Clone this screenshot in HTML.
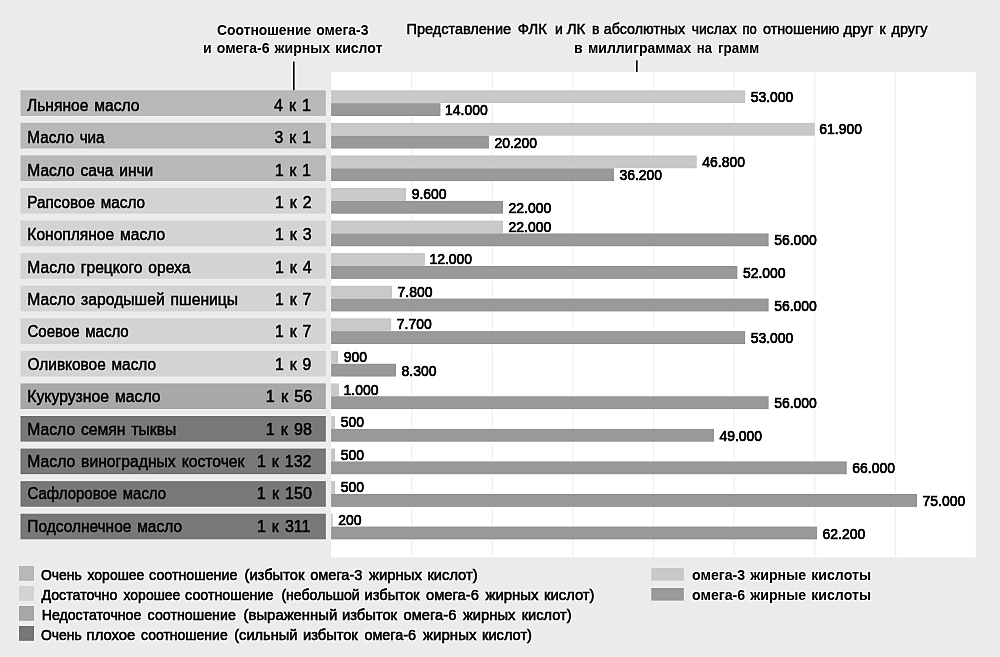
<!DOCTYPE html>
<html lang="ru"><head><meta charset="utf-8"><title>Соотношение омега-3 и омега-6 жирных кислот</title>
<style>
*{margin:0;padding:0}
html,body{width:1000px;height:657px;overflow:hidden;background:#ebebeb}
svg{display:block;position:absolute;left:0;top:0}
text{font-family:"Liberation Sans",sans-serif;fill:#0a0a0a;white-space:pre}
</style></head>
<body>
<svg width="1000" height="657" viewBox="0 0 1000 657">
<defs><filter id="usm" x="0" y="0" width="1000" height="657" filterUnits="userSpaceOnUse" color-interpolation-filters="sRGB"><feGaussianBlur in="SourceGraphic" stdDeviation="0.9" result="b"/><feComposite in="SourceGraphic" in2="b" operator="arithmetic" k1="0" k2="1.45" k3="-0.45" k4="0"/></filter></defs>
<g filter="url(#usm)">
<rect x="-20" y="-20" width="1040" height="697" fill="#ebebeb"/>
<rect x="331.1" y="72.0" width="644.70" height="485.40" fill="#ffffff"/>
<rect x="411.15" y="72.0" width="1.1" height="485.40" fill="#f0f0f0"/>
<rect x="491.75" y="72.0" width="1.1" height="485.40" fill="#f0f0f0"/>
<rect x="572.35" y="72.0" width="1.1" height="485.40" fill="#f0f0f0"/>
<rect x="652.95" y="72.0" width="1.1" height="485.40" fill="#f0f0f0"/>
<rect x="733.55" y="72.0" width="1.1" height="485.40" fill="#f0f0f0"/>
<rect x="814.15" y="72.0" width="1.1" height="485.40" fill="#f0f0f0"/>
<rect x="894.75" y="72.0" width="1.1" height="485.40" fill="#f0f0f0"/>
<rect x="293.0" y="61.6" width="1.6" height="29" fill="#1a1a1a"/>
<rect x="636.0" y="60.4" width="1.6" height="11.6" fill="#1a1a1a"/>
<rect x="20.5" y="90.30" width="305.30" height="25.6" fill="#b8b8b8"/>
<rect x="331.1" y="90.30" width="414.09" height="12.85" fill="#c9c9c9"/>
<rect x="331.1" y="103.15" width="109.38" height="12.85" fill="#9a9a9a"/>
<rect x="20.5" y="122.87" width="305.30" height="25.6" fill="#b8b8b8"/>
<rect x="331.1" y="122.87" width="483.62" height="12.85" fill="#c9c9c9"/>
<rect x="331.1" y="135.72" width="157.82" height="12.85" fill="#9a9a9a"/>
<rect x="20.5" y="155.44" width="305.30" height="25.6" fill="#b8b8b8"/>
<rect x="331.1" y="155.44" width="365.65" height="12.85" fill="#c9c9c9"/>
<rect x="331.1" y="168.29" width="282.83" height="12.85" fill="#9a9a9a"/>
<rect x="20.5" y="188.01" width="305.30" height="25.6" fill="#d3d3d3"/>
<rect x="331.1" y="188.01" width="75.00" height="12.85" fill="#c9c9c9"/>
<rect x="331.1" y="200.86" width="171.89" height="12.85" fill="#9a9a9a"/>
<rect x="20.5" y="220.58" width="305.30" height="25.6" fill="#d3d3d3"/>
<rect x="331.1" y="220.58" width="171.89" height="12.85" fill="#c9c9c9"/>
<rect x="331.1" y="233.43" width="437.53" height="12.85" fill="#9a9a9a"/>
<rect x="20.5" y="253.15" width="305.30" height="25.6" fill="#d3d3d3"/>
<rect x="331.1" y="253.15" width="93.76" height="12.85" fill="#c9c9c9"/>
<rect x="331.1" y="266.00" width="406.28" height="12.85" fill="#9a9a9a"/>
<rect x="20.5" y="285.72" width="305.30" height="25.6" fill="#d3d3d3"/>
<rect x="331.1" y="285.72" width="60.94" height="12.85" fill="#c9c9c9"/>
<rect x="331.1" y="298.57" width="437.53" height="12.85" fill="#9a9a9a"/>
<rect x="20.5" y="318.29" width="305.30" height="25.6" fill="#d3d3d3"/>
<rect x="331.1" y="318.29" width="60.16" height="12.85" fill="#c9c9c9"/>
<rect x="331.1" y="331.14" width="414.09" height="12.85" fill="#9a9a9a"/>
<rect x="20.5" y="350.86" width="305.30" height="25.6" fill="#d3d3d3"/>
<rect x="331.1" y="350.86" width="7.03" height="12.85" fill="#c9c9c9"/>
<rect x="331.1" y="363.71" width="64.85" height="12.85" fill="#9a9a9a"/>
<rect x="20.5" y="383.43" width="305.30" height="25.6" fill="#a8a8a8"/>
<rect x="331.1" y="383.43" width="7.81" height="12.85" fill="#c9c9c9"/>
<rect x="331.1" y="396.28" width="437.53" height="12.85" fill="#9a9a9a"/>
<rect x="20.5" y="416.00" width="305.30" height="25.6" fill="#787878"/>
<rect x="331.1" y="416.00" width="3.91" height="12.85" fill="#c9c9c9"/>
<rect x="331.1" y="428.85" width="382.84" height="12.85" fill="#9a9a9a"/>
<rect x="20.5" y="448.57" width="305.30" height="25.6" fill="#787878"/>
<rect x="331.1" y="448.57" width="3.91" height="12.85" fill="#c9c9c9"/>
<rect x="331.1" y="461.42" width="515.66" height="12.85" fill="#9a9a9a"/>
<rect x="20.5" y="481.14" width="305.30" height="25.6" fill="#787878"/>
<rect x="331.1" y="481.14" width="3.91" height="12.85" fill="#c9c9c9"/>
<rect x="331.1" y="493.99" width="585.98" height="12.85" fill="#9a9a9a"/>
<rect x="20.5" y="513.71" width="305.30" height="25.6" fill="#787878"/>
<rect x="331.1" y="513.71" width="1.56" height="12.85" fill="#c9c9c9"/>
<rect x="331.1" y="526.56" width="485.97" height="12.85" fill="#9a9a9a"/>
<rect x="19" y="566" width="15" height="14.8" fill="#b8b8b8"/>
<rect x="19" y="586" width="15" height="14.8" fill="#d3d3d3"/>
<rect x="19" y="606" width="15" height="14.8" fill="#a8a8a8"/>
<rect x="19" y="626" width="15" height="14.8" fill="#787878"/>
<rect x="651.3" y="568" width="32.5" height="12.6" fill="#c9c9c9"/>
<rect x="651.3" y="588" width="32.5" height="12.6" fill="#9a9a9a"/>
<text x="217.00" y="35.00" font-size="14" textLength="151.39" lengthAdjust="spacingAndGlyphs" font-weight="bold" word-spacing="1.2">Соотношение омега-3</text>
<text x="203.00" y="53.00" font-size="14" textLength="179.46" lengthAdjust="spacingAndGlyphs" font-weight="bold" word-spacing="1.2">и омега-6 жирных кислот</text>
<g>
<text x="406.46" y="34.20" font-size="14" textLength="104.61" lengthAdjust="spacingAndGlyphs" stroke="#0a0a0a" stroke-width="0.45">Представление</text>
<text x="517.80" y="34.20" font-size="14" textLength="29.11" lengthAdjust="spacingAndGlyphs" stroke="#0a0a0a" stroke-width="0.45">ФЛК</text>
<text x="555.00" y="34.20" font-size="14" textLength="7.82" lengthAdjust="spacingAndGlyphs" stroke="#0a0a0a" stroke-width="0.45">и</text>
<text x="566.70" y="34.20" font-size="14" textLength="18.59" lengthAdjust="spacingAndGlyphs" stroke="#0a0a0a" stroke-width="0.45">ЛК</text>
<text x="592.00" y="34.20" font-size="14" textLength="7.44" lengthAdjust="spacingAndGlyphs" stroke="#0a0a0a" stroke-width="0.45">в</text>
<text x="603.80" y="34.20" font-size="14" textLength="81.40" lengthAdjust="spacingAndGlyphs" stroke="#0a0a0a" stroke-width="0.45">абсолютных</text>
<text x="691.70" y="34.20" font-size="14" textLength="45.00" lengthAdjust="spacingAndGlyphs" stroke="#0a0a0a" stroke-width="0.45">числах</text>
<text x="742.50" y="34.20" font-size="14" textLength="14.29" lengthAdjust="spacingAndGlyphs" stroke="#0a0a0a" stroke-width="0.45">по</text>
<text x="763.00" y="34.20" font-size="14" textLength="76.21" lengthAdjust="spacingAndGlyphs" stroke="#0a0a0a" stroke-width="0.45">отношению</text>
<text x="843.50" y="34.20" font-size="14" textLength="30.11" lengthAdjust="spacingAndGlyphs" stroke="#0a0a0a" stroke-width="0.45">друг</text>
<text x="879.60" y="34.20" font-size="14" textLength="6.12" lengthAdjust="spacingAndGlyphs" stroke="#0a0a0a" stroke-width="0.45">к</text>
<text x="891.50" y="34.20" font-size="14" textLength="36.00" lengthAdjust="spacingAndGlyphs" stroke="#0a0a0a" stroke-width="0.45">другу</text>
</g>
<g>
<text x="573.90" y="52.50" font-size="14" textLength="8.61" lengthAdjust="spacingAndGlyphs" font-weight="bold">в</text>
<text x="588.00" y="52.50" font-size="14" textLength="103.19" lengthAdjust="spacingAndGlyphs" font-weight="bold">миллиграммах</text>
<text x="696.85" y="52.50" font-size="14" textLength="15.11" lengthAdjust="spacingAndGlyphs" font-weight="bold">на</text>
<text x="718.00" y="52.50" font-size="14" textLength="41.14" lengthAdjust="spacingAndGlyphs" font-weight="bold">грамм</text>
</g>
<text x="27.00" y="110.80" font-size="16" textLength="112.50" lengthAdjust="spacingAndGlyphs" stroke="#0a0a0a" stroke-width="0.5" word-spacing="1.6">Льняное масло</text>
<text x="273.90" y="110.80" font-size="16" textLength="37.00" lengthAdjust="spacingAndGlyphs" stroke="#0a0a0a" stroke-width="0.5" word-spacing="1.6">4 к 1</text>
<text x="750.71" y="101.50" font-size="15" textLength="42.67" lengthAdjust="spacingAndGlyphs" stroke="#0a0a0a" stroke-width="0.7">53.000</text>
<text x="445.04" y="115.10" font-size="15" textLength="42.67" lengthAdjust="spacingAndGlyphs" stroke="#0a0a0a" stroke-width="0.7">14.000</text>
<text x="27.35" y="143.18" font-size="16" textLength="77.26" lengthAdjust="spacingAndGlyphs" stroke="#0a0a0a" stroke-width="0.5" word-spacing="1.6">Масло чиа</text>
<text x="274.60" y="143.18" font-size="16" textLength="36.30" lengthAdjust="spacingAndGlyphs" stroke="#0a0a0a" stroke-width="0.5" word-spacing="1.6">3 к 1</text>
<text x="819.25" y="134.07" font-size="15" textLength="42.67" lengthAdjust="spacingAndGlyphs" stroke="#0a0a0a" stroke-width="0.7">61.900</text>
<text x="494.45" y="147.67" font-size="15" textLength="42.67" lengthAdjust="spacingAndGlyphs" stroke="#0a0a0a" stroke-width="0.7">20.200</text>
<text x="27.33" y="175.56" font-size="16" textLength="125.98" lengthAdjust="spacingAndGlyphs" stroke="#0a0a0a" stroke-width="0.5" word-spacing="1.6">Масло сача инчи</text>
<text x="275.03" y="175.56" font-size="16" textLength="35.87" lengthAdjust="spacingAndGlyphs" stroke="#0a0a0a" stroke-width="0.5" word-spacing="1.6">1 к 1</text>
<text x="702.27" y="166.64" font-size="15" textLength="42.67" lengthAdjust="spacingAndGlyphs" stroke="#0a0a0a" stroke-width="0.7">46.800</text>
<text x="619.46" y="180.24" font-size="15" textLength="42.67" lengthAdjust="spacingAndGlyphs" stroke="#0a0a0a" stroke-width="0.7">36.200</text>
<text x="27.35" y="207.94" font-size="16" textLength="117.66" lengthAdjust="spacingAndGlyphs" stroke="#0a0a0a" stroke-width="0.5" word-spacing="1.6">Рапсовое масло</text>
<text x="275.01" y="207.94" font-size="16" textLength="36.49" lengthAdjust="spacingAndGlyphs" stroke="#0a0a0a" stroke-width="0.5" word-spacing="1.6">1 к 2</text>
<text x="411.66" y="199.21" font-size="15" textLength="34.91" lengthAdjust="spacingAndGlyphs" stroke="#0a0a0a" stroke-width="0.7">9.600</text>
<text x="508.51" y="212.81" font-size="15" textLength="42.67" lengthAdjust="spacingAndGlyphs" stroke="#0a0a0a" stroke-width="0.7">22.000</text>
<text x="27.33" y="240.32" font-size="16" textLength="137.77" lengthAdjust="spacingAndGlyphs" stroke="#0a0a0a" stroke-width="0.5" word-spacing="1.6">Конопляное масло</text>
<text x="275.01" y="240.32" font-size="16" textLength="36.49" lengthAdjust="spacingAndGlyphs" stroke="#0a0a0a" stroke-width="0.5" word-spacing="1.6">1 к 3</text>
<text x="508.51" y="231.78" font-size="15" textLength="42.67" lengthAdjust="spacingAndGlyphs" stroke="#0a0a0a" stroke-width="0.7">22.000</text>
<text x="774.15" y="245.38" font-size="15" textLength="42.67" lengthAdjust="spacingAndGlyphs" stroke="#0a0a0a" stroke-width="0.7">56.000</text>
<text x="27.33" y="272.70" font-size="16" textLength="162.98" lengthAdjust="spacingAndGlyphs" stroke="#0a0a0a" stroke-width="0.5" word-spacing="1.6">Масло грецкого ореха</text>
<text x="275.01" y="272.70" font-size="16" textLength="36.69" lengthAdjust="spacingAndGlyphs" stroke="#0a0a0a" stroke-width="0.5" word-spacing="1.6">1 к 4</text>
<text x="429.42" y="264.35" font-size="15" textLength="42.67" lengthAdjust="spacingAndGlyphs" stroke="#0a0a0a" stroke-width="0.7">12.000</text>
<text x="742.90" y="277.95" font-size="15" textLength="42.67" lengthAdjust="spacingAndGlyphs" stroke="#0a0a0a" stroke-width="0.7">52.000</text>
<text x="27.32" y="305.08" font-size="16" textLength="210.77" lengthAdjust="spacingAndGlyphs" stroke="#0a0a0a" stroke-width="0.5" word-spacing="1.6">Масло зародышей пшеницы</text>
<text x="275.02" y="305.08" font-size="16" textLength="36.28" lengthAdjust="spacingAndGlyphs" stroke="#0a0a0a" stroke-width="0.5" word-spacing="1.6">1 к 7</text>
<text x="397.60" y="296.92" font-size="15" textLength="34.91" lengthAdjust="spacingAndGlyphs" stroke="#0a0a0a" stroke-width="0.7">7.800</text>
<text x="774.15" y="310.52" font-size="15" textLength="42.67" lengthAdjust="spacingAndGlyphs" stroke="#0a0a0a" stroke-width="0.7">56.000</text>
<text x="27.50" y="337.46" font-size="16" textLength="101.20" lengthAdjust="spacingAndGlyphs" stroke="#0a0a0a" stroke-width="0.5" word-spacing="1.6">Соевое масло</text>
<text x="275.02" y="337.46" font-size="16" textLength="36.28" lengthAdjust="spacingAndGlyphs" stroke="#0a0a0a" stroke-width="0.5" word-spacing="1.6">1 к 7</text>
<text x="396.81" y="329.49" font-size="15" textLength="34.91" lengthAdjust="spacingAndGlyphs" stroke="#0a0a0a" stroke-width="0.7">7.700</text>
<text x="750.71" y="343.09" font-size="15" textLength="42.67" lengthAdjust="spacingAndGlyphs" stroke="#0a0a0a" stroke-width="0.7">53.000</text>
<text x="27.50" y="369.84" font-size="16" textLength="128.60" lengthAdjust="spacingAndGlyphs" stroke="#0a0a0a" stroke-width="0.5" word-spacing="1.6">Оливковое масло</text>
<text x="275.02" y="369.84" font-size="16" textLength="36.28" lengthAdjust="spacingAndGlyphs" stroke="#0a0a0a" stroke-width="0.5" word-spacing="1.6">1 к 9</text>
<text x="343.80" y="362.06" font-size="15" textLength="23.27" lengthAdjust="spacingAndGlyphs" stroke="#0a0a0a" stroke-width="0.7">900</text>
<text x="401.50" y="375.66" font-size="15" textLength="34.91" lengthAdjust="spacingAndGlyphs" stroke="#0a0a0a" stroke-width="0.7">8.300</text>
<text x="27.32" y="402.22" font-size="16" textLength="133.28" lengthAdjust="spacingAndGlyphs" stroke="#0a0a0a" stroke-width="0.5" word-spacing="1.6">Кукурузное масло</text>
<text x="265.79" y="402.22" font-size="16" textLength="46.41" lengthAdjust="spacingAndGlyphs" stroke="#0a0a0a" stroke-width="0.5" word-spacing="1.6">1 к 56</text>
<text x="343.50" y="394.63" font-size="15" textLength="34.91" lengthAdjust="spacingAndGlyphs" stroke="#0a0a0a" stroke-width="0.7">1.000</text>
<text x="774.15" y="408.23" font-size="15" textLength="42.67" lengthAdjust="spacingAndGlyphs" stroke="#0a0a0a" stroke-width="0.7">56.000</text>
<text x="27.32" y="434.60" font-size="16" textLength="148.97" lengthAdjust="spacingAndGlyphs" stroke="#0a0a0a" stroke-width="0.5" word-spacing="1.6">Масло семян тыквы</text>
<text x="265.79" y="434.60" font-size="16" textLength="46.21" lengthAdjust="spacingAndGlyphs" stroke="#0a0a0a" stroke-width="0.5" word-spacing="1.6">1 к 98</text>
<text x="340.68" y="427.20" font-size="15" textLength="23.27" lengthAdjust="spacingAndGlyphs" stroke="#0a0a0a" stroke-width="0.7">500</text>
<text x="719.46" y="440.80" font-size="15" textLength="42.67" lengthAdjust="spacingAndGlyphs" stroke="#0a0a0a" stroke-width="0.7">49.000</text>
<text x="27.32" y="466.98" font-size="16" textLength="217.10" lengthAdjust="spacingAndGlyphs" stroke="#0a0a0a" stroke-width="0.5" word-spacing="1.6">Масло виноградных косточек</text>
<text x="256.90" y="466.98" font-size="16" textLength="54.60" lengthAdjust="spacingAndGlyphs" stroke="#0a0a0a" stroke-width="0.5" word-spacing="1.6">1 к 132</text>
<text x="340.68" y="459.77" font-size="15" textLength="23.27" lengthAdjust="spacingAndGlyphs" stroke="#0a0a0a" stroke-width="0.7">500</text>
<text x="852.28" y="473.37" font-size="15" textLength="42.67" lengthAdjust="spacingAndGlyphs" stroke="#0a0a0a" stroke-width="0.7">66.000</text>
<text x="27.50" y="499.36" font-size="16" textLength="138.60" lengthAdjust="spacingAndGlyphs" stroke="#0a0a0a" stroke-width="0.5" word-spacing="1.6">Сафлоровое масло</text>
<text x="256.89" y="499.36" font-size="16" textLength="55.00" lengthAdjust="spacingAndGlyphs" stroke="#0a0a0a" stroke-width="0.5" word-spacing="1.6">1 к 150</text>
<text x="340.68" y="492.34" font-size="15" textLength="23.27" lengthAdjust="spacingAndGlyphs" stroke="#0a0a0a" stroke-width="0.7">500</text>
<text x="922.60" y="505.94" font-size="15" textLength="42.67" lengthAdjust="spacingAndGlyphs" stroke="#0a0a0a" stroke-width="0.7">75.000</text>
<text x="27.33" y="531.74" font-size="16" textLength="154.67" lengthAdjust="spacingAndGlyphs" stroke="#0a0a0a" stroke-width="0.5" word-spacing="1.6">Подсолнечное масло</text>
<text x="256.90" y="531.74" font-size="16" textLength="53.60" lengthAdjust="spacingAndGlyphs" stroke="#0a0a0a" stroke-width="0.5" word-spacing="1.6">1 к 311</text>
<text x="338.33" y="524.91" font-size="15" textLength="23.27" lengthAdjust="spacingAndGlyphs" stroke="#0a0a0a" stroke-width="0.7">200</text>
<text x="822.59" y="538.51" font-size="15" textLength="42.67" lengthAdjust="spacingAndGlyphs" stroke="#0a0a0a" stroke-width="0.7">62.200</text>
<g>
<text x="40.99" y="579.50" font-size="15" textLength="40.85" lengthAdjust="spacingAndGlyphs" stroke="#0a0a0a" stroke-width="0.55">Очень</text>
<text x="87.56" y="579.50" font-size="15" textLength="56.80" lengthAdjust="spacingAndGlyphs" stroke="#0a0a0a" stroke-width="0.55">хорошее</text>
<text x="149.10" y="579.50" font-size="15" textLength="88.23" lengthAdjust="spacingAndGlyphs" stroke="#0a0a0a" stroke-width="0.55">соотношение</text>
<text x="244.50" y="579.50" font-size="15" textLength="59.87" lengthAdjust="spacingAndGlyphs" stroke="#0a0a0a" stroke-width="0.55">(избыток</text>
<text x="310.20" y="579.50" font-size="15" textLength="52.23" lengthAdjust="spacingAndGlyphs" stroke="#0a0a0a" stroke-width="0.55">омега-3</text>
<text x="369.00" y="579.50" font-size="15" textLength="52.90" lengthAdjust="spacingAndGlyphs" stroke="#0a0a0a" stroke-width="0.55">жирных</text>
<text x="427.42" y="579.50" font-size="15" textLength="50.17" lengthAdjust="spacingAndGlyphs" stroke="#0a0a0a" stroke-width="0.55">кислот)</text>
</g>
<g>
<text x="41.40" y="599.60" font-size="15" textLength="75.92" lengthAdjust="spacingAndGlyphs" stroke="#0a0a0a" stroke-width="0.55">Достаточно</text>
<text x="123.56" y="599.60" font-size="15" textLength="56.80" lengthAdjust="spacingAndGlyphs" stroke="#0a0a0a" stroke-width="0.55">хорошее</text>
<text x="185.10" y="599.60" font-size="15" textLength="88.23" lengthAdjust="spacingAndGlyphs" stroke="#0a0a0a" stroke-width="0.55">соотношение</text>
<text x="281.40" y="599.60" font-size="15" textLength="78.36" lengthAdjust="spacingAndGlyphs" stroke="#0a0a0a" stroke-width="0.55">(небольшой</text>
<text x="364.42" y="599.60" font-size="15" textLength="55.15" lengthAdjust="spacingAndGlyphs" stroke="#0a0a0a" stroke-width="0.55">избыток</text>
<text x="426.00" y="599.60" font-size="15" textLength="52.84" lengthAdjust="spacingAndGlyphs" stroke="#0a0a0a" stroke-width="0.55">омега-6</text>
<text x="485.40" y="599.60" font-size="15" textLength="53.20" lengthAdjust="spacingAndGlyphs" stroke="#0a0a0a" stroke-width="0.55">жирных</text>
<text x="544.12" y="599.60" font-size="15" textLength="50.28" lengthAdjust="spacingAndGlyphs" stroke="#0a0a0a" stroke-width="0.55">кислот)</text>
</g>
<g>
<text x="41.66" y="619.70" font-size="15" textLength="99.67" lengthAdjust="spacingAndGlyphs" stroke="#0a0a0a" stroke-width="0.55">Недостаточное</text>
<text x="147.60" y="619.70" font-size="15" textLength="88.23" lengthAdjust="spacingAndGlyphs" stroke="#0a0a0a" stroke-width="0.55">соотношение</text>
<text x="243.60" y="619.70" font-size="15" textLength="93.68" lengthAdjust="spacingAndGlyphs" stroke="#0a0a0a" stroke-width="0.55">(выраженный</text>
<text x="341.92" y="619.70" font-size="15" textLength="55.15" lengthAdjust="spacingAndGlyphs" stroke="#0a0a0a" stroke-width="0.55">избыток</text>
<text x="403.50" y="619.70" font-size="15" textLength="52.84" lengthAdjust="spacingAndGlyphs" stroke="#0a0a0a" stroke-width="0.55">омега-6</text>
<text x="462.90" y="619.70" font-size="15" textLength="52.61" lengthAdjust="spacingAndGlyphs" stroke="#0a0a0a" stroke-width="0.55">жирных</text>
<text x="521.63" y="619.70" font-size="15" textLength="49.87" lengthAdjust="spacingAndGlyphs" stroke="#0a0a0a" stroke-width="0.55">кислот)</text>
</g>
<g>
<text x="40.99" y="639.80" font-size="15" textLength="40.85" lengthAdjust="spacingAndGlyphs" stroke="#0a0a0a" stroke-width="0.55">Очень</text>
<text x="86.61" y="639.80" font-size="15" textLength="48.73" lengthAdjust="spacingAndGlyphs" stroke="#0a0a0a" stroke-width="0.55">плохое</text>
<text x="141.00" y="639.80" font-size="15" textLength="86.72" lengthAdjust="spacingAndGlyphs" stroke="#0a0a0a" stroke-width="0.55">соотношение</text>
<text x="234.20" y="639.80" font-size="15" textLength="63.37" lengthAdjust="spacingAndGlyphs" stroke="#0a0a0a" stroke-width="0.55">(сильный</text>
<text x="303.02" y="639.80" font-size="15" textLength="54.75" lengthAdjust="spacingAndGlyphs" stroke="#0a0a0a" stroke-width="0.55">избыток</text>
<text x="364.40" y="639.80" font-size="15" textLength="51.73" lengthAdjust="spacingAndGlyphs" stroke="#0a0a0a" stroke-width="0.55">омега-6</text>
<text x="423.00" y="639.80" font-size="15" textLength="53.50" lengthAdjust="spacingAndGlyphs" stroke="#0a0a0a" stroke-width="0.55">жирных</text>
<text x="482.02" y="639.80" font-size="15" textLength="49.97" lengthAdjust="spacingAndGlyphs" stroke="#0a0a0a" stroke-width="0.55">кислот)</text>
</g>
<text x="692.00" y="579.50" font-size="14" textLength="178.97" lengthAdjust="spacingAndGlyphs" font-weight="bold" word-spacing="1.2">омега-3 жирные кислоты</text>
<text x="692.00" y="599.50" font-size="14" textLength="178.97" lengthAdjust="spacingAndGlyphs" font-weight="bold" word-spacing="1.2">омега-6 жирные кислоты</text>
</g>
</svg>
</body></html>
